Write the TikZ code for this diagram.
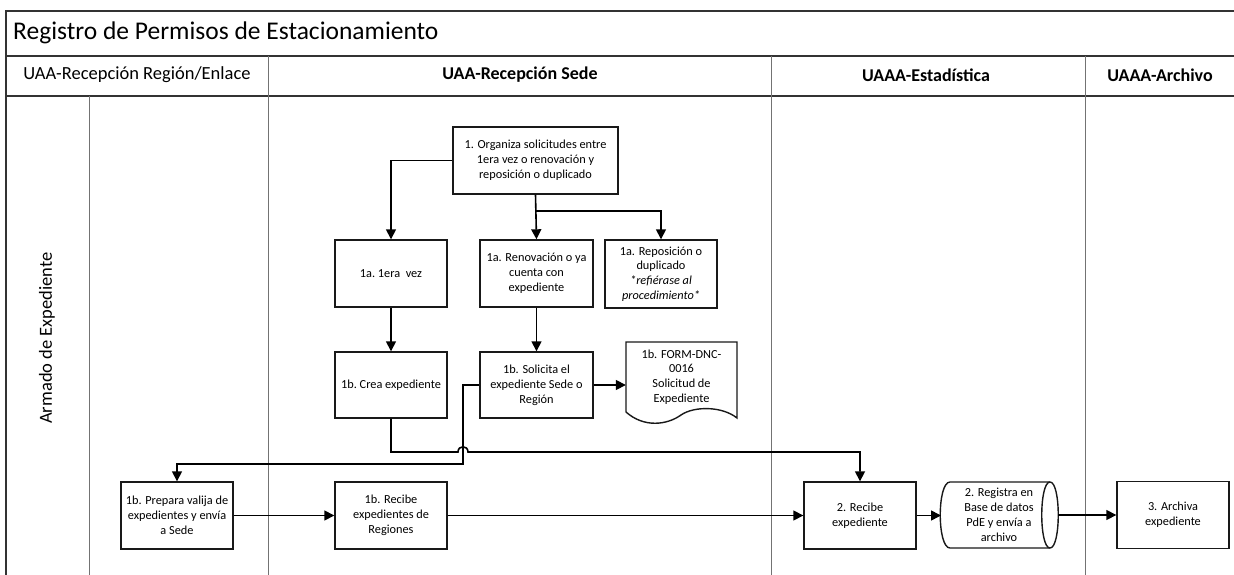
\documentclass[tikz,border=0pt]{standalone}
\usepackage{fontspec}
\setmainfont{Carlito}
\usetikzlibrary{arrows.meta}
\begin{document}
\begin{tikzpicture}[x=1pt,y=-1pt,
  box/.style={draw=black!90, line width=1.4pt, minimum width=112pt, minimum height=67pt, inner sep=1pt, align=center, font=\fontsize{12.3}{14.8}\selectfont, text=black},
  ghost/.style={minimum width=#1, minimum height=67pt, inner sep=1pt, align=center, font=\fontsize{12.3}{14.8}\selectfont, text=black},
  conn/.style={line width=1.6pt, draw=black, -{Triangle[length=10pt,width=10pt]}},
  shapeline/.style={draw=black!90, line width=1.4pt},
  lane/.style={draw=black!55, line width=1pt},
  frame/.style={draw=black!80, line width=1.3pt},
  hdr/.style={font=\fontsize{18}{20}\selectfont\bfseries, text=black},
  hdrl/.style={font=\fontsize{18.5}{20}\selectfont, text=black}]
\useasboundingbox (0,0) rectangle (1234,575);
\fill[white] (0,0) rectangle (1234,575);
% frame
\draw[frame] (1234,11) -- (6,11) -- (6,575);
\draw[frame] (6,56) -- (1234,56);
\draw[frame] (6,96) -- (1234,96);
\draw[lane] (89,96) -- (89,575);
\draw[lane] (268,56) -- (268,575);
\draw[lane] (771,56) -- (771,575);
\draw[lane] (1085,56) -- (1085,575);
% titles
\node[anchor=west, font=\fontsize{25.5}{28}\selectfont, text=black, inner sep=0pt] (title) at (13,33) {Registro de Permisos de Estacionamiento};
\node[hdrl] (h1) at (137,75) {UAA-Recepción Región/Enlace};
\node[hdr] (h2) at (520,75) {UAA-Recepción Sede};
\node[hdr] (h3) at (926,75) {UAAA-Estadística};
\node[hdr] (h4) at (1160,75) {UAAA-Archivo};
\node[hdrl, rotate=90] (lanelbl) at (47,338) {Armado de Expediente};
% nodes
\node[box, minimum width=165pt] (n1) at (535.5,160.5) {1. Organiza solicitudes entre\\1era vez o renovación y\\reposición o duplicado};
\node[box] (n1a1) at (391,273.5) {1a.\ 1era\ \ vez};
\node[box, minimum width=113pt] (n1a2) at (536.5,273.5) {1a. Renovación o ya\\cuenta con\\expediente};
\node[box, minimum height=68pt] (n1a3) at (661,274) {1a. Reposición o\\duplicado\\\textit{*refiérase al}\\\textit{procedimiento*}};
\node[box, minimum height=66pt] (n1b1) at (391,385) {1b.\ Crea expediente};
\node[box, minimum width=113pt, minimum height=66pt] (n1b2) at (536.5,385) {1b. Solicita el\\expediente Sede o\\Región};
\node[ghost=111pt, minimum height=70pt] (doc) at (681.5,377) {1b. FORM-DNC-\\0016\\Solicitud de\\Expediente};
\draw[shapeline] (626,342) -- (737,342) -- (737,418)
  .. controls (722,406) and (694,406) .. (681,415)
  .. controls (667,425) and (644,428) .. (626,412) -- cycle;
\node[box] (prep) at (177,515.5) {1b. Prepara valija de\\expedientes y envía\\a Sede};
\node[box] (rec) at (391,515.5) {1b. Recibe\\expedientes de\\Regiones};
\node[box] (n2) at (860,515.5) {2. Recibe\\expediente};
\node[ghost=118pt, minimum height=66pt] (cyl) at (999,515) {2. Registra en\\Base de datos\\PdE y envía a\\archivo};
\draw[shapeline] (950,482) -- (1050,482)
  .. controls (1061,482) and (1061,548) .. (1050,548) -- (950,548)
  .. controls (937,548) and (937,482) .. (950,482);
\draw[shapeline] (1050,482) .. controls (1039,482) and (1039,548) .. (1050,548);
\node[box] (n3) at (1173,515) {3. Archiva\\expediente};
% connectors
\draw[conn] (n1.west) -| (n1a1.north);
\draw[conn] (n1.south) -- (n1a2.north);
\coordinate (br) at (536,211);
\draw[conn] (br) -| (n1a3.north);
\draw[conn] (n1a1.south) -- (n1b1.north);
\draw[conn] (n1a2.south) -- (n1b2.north);
\draw[conn] (n1b2.east) -- (doc.west |- n1b2.east);
\coordinate (hopA) at (458,452);
\coordinate (hopB) at (468,452);
\draw[conn] (n1b1.south) |- (hopA) .. controls (458,445) and (468,445) .. (hopB) -| (n2.north);
\coordinate (bendB) at (463,464);
\draw[conn] (n1b2.west) -| (bendB) -| (prep.north);
\draw[conn] (prep.east) -- (rec.west);
\draw[conn] (rec.east) -- (n2.west);
\draw[conn] (n2.east) -- (941,515.5);
\draw[conn] (cyl.east) -- (n3.west);
\end{tikzpicture}
\end{document}
